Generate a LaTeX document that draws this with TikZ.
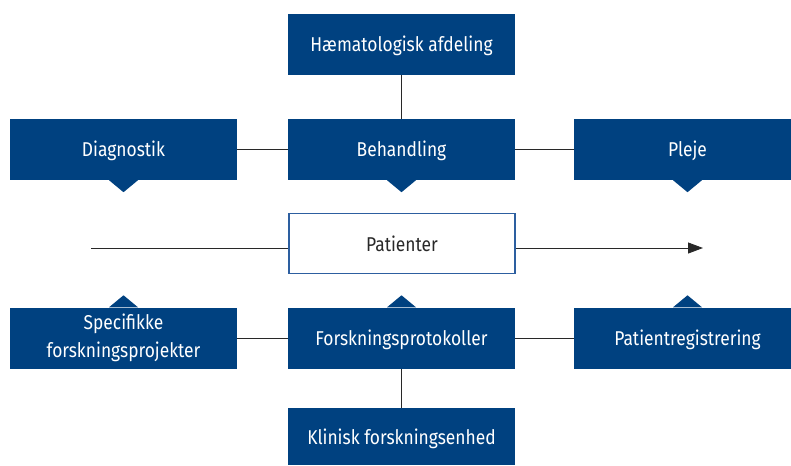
\documentclass[tikz,border=0pt]{standalone}
\usepackage{fontspec}
\setmainfont[FakeStretch=0.87]{Fira Sans}
\usetikzlibrary{arrows.meta}
\definecolor{navy}{RGB}{0,65,128}
\definecolor{frame}{RGB}{45,95,160}
\definecolor{ink}{RGB}{40,40,40}
\tikzset{
  boxbase/.style={fill=navy, text=white, minimum width=227pt, minimum height=61pt, inner sep=0pt, align=center, font=\fontsize{20}{28}\selectfont},
  box/.style={boxbase, text height=15pt, text depth=0pt},
  wbox/.style={draw=frame, line width=1.3pt, fill=white, text=ink, minimum width=226pt, minimum height=60pt, inner sep=0pt, align=center, font=\fontsize{20}{28}\selectfont, text height=15pt, text depth=0pt},
  conn/.style={draw=ink, line width=0.9pt},
  tip/.style={fill=navy, draw=none}
}
\begin{document}
\begin{tikzpicture}[x=1pt, y=-1pt]
\useasboundingbox (0,0) rectangle (791,465);
% top
\node[box] (haem) at (401.5,44.5) {Hæmatologisk afdeling};
\node[box] (diag) at (123.5,149.5) {Diagnostik};
\node[box] (beh) at (401.5,149.5) {Behandling};
\node[box] (plej) at (687.5,149.5) {Pleje};
% middle
\node[wbox] (pat) at (402,243.5) {Patienter};
\coordinate (lstart) at (91,248);
\coordinate (lend) at (703,248);
% bottom
\node[boxbase] (spec) at (123.5,338) {Specifikke\\forskningsprojekter};
\node[box] (prot) at (401.5,338) {Forskningsprotokoller};
\node[box] (preg) at (687.5,338) {Patientregistrering};
\node[box, minimum height=57pt] (klin) at (401.5,436.5) {Klinisk forskningsenhed};
% pointers
\fill[tip] ([xshift=-14.5pt]diag.south) -- ([yshift=-12pt]diag.south) -- ([xshift=14.5pt]diag.south) -- cycle;
\fill[tip] ([xshift=-14.5pt]beh.south) -- ([yshift=-12pt]beh.south) -- ([xshift=14.5pt]beh.south) -- cycle;
\fill[tip] ([xshift=-14.5pt]plej.south) -- ([yshift=-12pt]plej.south) -- ([xshift=14.5pt]plej.south) -- cycle;
\fill[tip] ([xshift=-14.5pt]spec.north) -- ([yshift=12pt]spec.north) -- ([xshift=14.5pt]spec.north) -- cycle;
\fill[tip] ([xshift=-14.5pt]prot.north) -- ([yshift=12pt]prot.north) -- ([xshift=14.5pt]prot.north) -- cycle;
\fill[tip] ([xshift=-14.5pt]preg.north) -- ([yshift=12pt]preg.north) -- ([xshift=14.5pt]preg.north) -- cycle;
% connectors
\draw[conn] (haem.south) -- (beh.north);
\draw[conn] (diag.east) -- (beh.west);
\draw[conn] (beh.east) -- (plej.west);
\draw[conn] (spec.east) -- (prot.west);
\draw[conn] (prot.east) -- (preg.west);
\draw[conn] (prot.south) -- (klin.north);
\draw[conn] (lstart) -- (pat.west |- lstart);
\draw[conn, -{Triangle[length=15pt, width=11pt]}] (pat.east |- lend) -- (lend);
\end{tikzpicture}
\end{document}
